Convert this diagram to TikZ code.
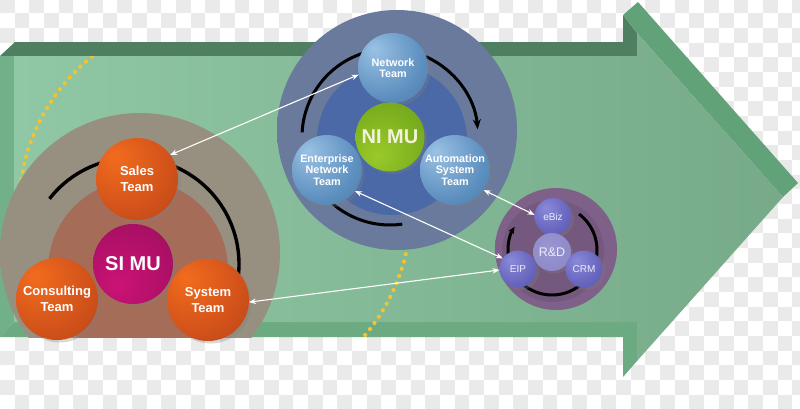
\documentclass[tikz,border=0pt]{standalone}
\usepackage{fontspec}
\setmainfont{Liberation Sans}
\usetikzlibrary{arrows.meta,shadows}
\definecolor{chk}{HTML}{EAEAEA}
\definecolor{topband}{HTML}{4E7F60}
\definecolor{leftstrip}{HTML}{72B08A}
\definecolor{botband}{HTML}{6CAB82}
\definecolor{headside}{HTML}{62A278}
\definecolor{faceA}{HTML}{90C7A4}
\definecolor{faceB}{HTML}{76AA89}
\definecolor{dotyel}{HTML}{F4C42E}
\definecolor{siA}{HTML}{978F7F}
\definecolor{siB}{HTML}{ADA593}
\definecolor{siinA}{HTML}{A56C58}
\definecolor{siinB}{HTML}{AF7A66}
\definecolor{niA}{HTML}{6A7A9C}
\definecolor{niB}{HTML}{7D8DB0}
\definecolor{niin}{HTML}{4A69A6}
\definecolor{rdA}{HTML}{7E6088}
\definecolor{rdB}{HTML}{8E6E92}
\definecolor{or1}{HTML}{F26C1E}
\definecolor{or2}{HTML}{D2521A}
\definecolor{or3}{HTML}{862F11}
\definecolor{bl1}{HTML}{9AC2E4}
\definecolor{bl2}{HTML}{5C8EBE}
\definecolor{bl3}{HTML}{28527E}
\definecolor{gr1}{HTML}{9ACA2A}
\definecolor{gr2}{HTML}{7AAE1E}
\definecolor{gr3}{HTML}{4E7A16}
\definecolor{mg1}{HTML}{CC1276}
\definecolor{mg2}{HTML}{AC1066}
\definecolor{mg3}{HTML}{740F44}
\definecolor{pu1}{HTML}{8A8ADA}
\definecolor{pu2}{HTML}{6664BC}
\definecolor{pu3}{HTML}{403E8A}
\definecolor{rd1}{HTML}{9A96D2}
\definecolor{rd2}{HTML}{7C78BA}
\definecolor{nitext}{HTML}{F2F2DA}
\definecolor{rdtext}{HTML}{ECECFA}
\pgfdeclareradialshading{orball}{\pgfpoint{-14bp}{14bp}}{color(0bp)=(or1); color(28bp)=(or2); color(75bp)=(or3)}
\pgfdeclareradialshading{blball}{\pgfpoint{-14bp}{14bp}}{color(0bp)=(bl1); color(30bp)=(bl2); color(75bp)=(bl3)}
\pgfdeclareradialshading{grball}{\pgfpoint{-10bp}{-14bp}}{color(0bp)=(gr1); color(30bp)=(gr2); color(75bp)=(gr3)}
\pgfdeclareradialshading{mgball}{\pgfpoint{-10bp}{-14bp}}{color(0bp)=(mg1); color(30bp)=(mg2); color(75bp)=(mg3)}
\pgfdeclareradialshading{puball}{\pgfpoint{-10bp}{12bp}}{color(0bp)=(pu1); color(28bp)=(pu2); color(75bp)=(pu3)}
\pgfdeclareradialshading{rdball}{\pgfpoint{-6bp}{8bp}}{color(0bp)=(rd1); color(75bp)=(rd2)}
\pgfdeclareradialshading{sidisc}{\pgfpointorigin}{color(0bp)=(siA); color(40bp)=(siA); color(50bp)=(siB)}
\pgfdeclareradialshading{siin}{\pgfpointorigin}{color(0bp)=(siinA); color(42bp)=(siinA); color(50bp)=(siinB)}
\pgfdeclareradialshading{nidisc}{\pgfpointorigin}{color(0bp)=(niA); color(42bp)=(niA); color(50bp)=(niB)}
\pgfdeclareradialshading{rddisc}{\pgfpointorigin}{color(0bp)=(rdA); color(40bp)=(rdA); color(50bp)=(rdB)}
\tikzset{
  ballnode/.style={circle, inner sep=0pt, outer sep=0pt, align=center, text=white,
    drop shadow={shadow xshift=2.5pt, shadow yshift=-2.5pt, opacity=0.3}},
  oball/.style={ballnode, shading=orball, minimum size=82pt, font=\fontsize{13}{15.5}\selectfont\bfseries},
  bball/.style={ballnode, shading=blball, minimum size=70pt, font=\fontsize{10.8}{11.7}\selectfont\bfseries},
  gball/.style={ballnode, shading=grball, minimum size=69pt, text=nitext, font=\fontsize{20}{22}\selectfont\bfseries},
  mball/.style={ballnode, shading=mgball, minimum size=80pt, font=\fontsize{20}{22}\selectfont\bfseries},
  pball/.style={ballnode, shading=puball, minimum size=37pt, text=rdtext, font=\fontsize{10}{12}\selectfont},
  rball/.style={ballnode, shading=rdball, minimum size=38pt, text=rdtext, font=\fontsize{12.5}{14}\selectfont},
  cyclearc/.style={black, line width=3pt},
  conn/.style={white, line width=1.1pt, {Stealth[length=7pt,width=5.5pt]}-{Stealth[length=7pt,width=5.5pt]}},
}
\begin{document}
\begin{tikzpicture}[x=1pt,y=-1pt]
\useasboundingbox (0,0) rectangle (800,408);
\fill[white] (0,0) rectangle (800,408);
% checkerboard
\foreach \i in {0,...,27} \foreach \j in {0,...,14} {
  \fill[chk] (\i*29.34, \j*29.34-1.4) rectangle ++(14.67,14.67);
  \fill[chk] (\i*29.34+14.67, \j*29.34+13.27) rectangle ++(14.67,14.67);
}
% arrow body
\fill[topband] (0,56) -- (15,42) -- (623,42) -- (623,15) -- (637,33) -- (637,56) -- cycle;
\fill[headside] (623,15) -- (638,2) -- (798,183) -- (783,197) -- (637,33) -- cycle;
\fill[leftstrip] (0,56) -- (14,56) -- (14,322) -- (0,337) -- cycle;
\fill[botband] (0,337) -- (14,322) -- (637,322) -- (637,361) -- (623,377) -- (623,337) -- cycle;
\shade[left color=faceA, right color=faceB] (14,56) -- (637,56) -- (637,33) -- (783,197) -- (637,361) -- (637,322) -- (14,322) -- cycle;
% dotted circle
\begin{scope}
  \clip (0,56) rectangle (640,337);
  \draw[dotyel, line width=4.2pt, line cap=round, dash pattern=on 0pt off 7.6pt] (215,209) circle[radius=196];
\end{scope}
% SI discs
\begin{scope}
  \clip (0,42) rectangle (623,337);
  \shade[shading=sidisc] (140,253) circle[radius=140];
  \shade[shading=siin] (138,270) circle[radius=90];
\end{scope}
% NI discs
\shade[shading=nidisc] (397,130) circle[radius=120];
\fill[niin] (392,140) circle[radius=75];
% R&D discs
\shade[shading=rddisc] (556,249) circle[radius=61];
\fill[rdA!92!black] (553,251) circle[radius=51];
% cycle arcs
\coordinate (sic) at (133,264);
\coordinate (nic) at (390,137);
\coordinate (rdc) at (552,250);
\draw[cyclearc, line width=3.4pt] (sic) ++(218:106) arc[start angle=218, end angle=380, radius=106];
\draw[cyclearc] (nic) ++(183:88) arc[start angle=183, end angle=258, radius=88];
\draw[cyclearc, -{Stealth[length=10pt,width=8pt]}] (nic) ++(-66:88) arc[start angle=-66, end angle=-5, radius=88];
\draw[cyclearc] (nic) ++(82:88) arc[start angle=82, end angle=135, radius=88];
\draw[cyclearc, -{Stealth[length=7pt,width=6pt]}] (rdc) ++(174:44) arc[start angle=174, end angle=212, radius=44];
\draw[cyclearc] (rdc) ++(-53:45) arc[start angle=-53, end angle=14, radius=45];
\draw[cyclearc] (rdc) ++(53:45) arc[start angle=53, end angle=131, radius=45];
% SI balls
\node[oball] (sales) at (137,179) {Sales\\Team};
\node[mball] (simu) at (133,264) {SI MU};
\node[oball] (consulting) at (57,299) {Consulting\\Team};
\node[oball] (system) at (208,300) {System\\Team};
% NI balls
\node[bball] (network) at (393,68) {Network\\Team};
\node[gball] (nimu) at (390,137) {NI MU};
\node[bball] (enterprise) at (327,170) {Enterprise\\Network\\Team};
\node[bball] (automation) at (455,170) {Automation\\System\\Team};
% R&D balls
\node[pball] (ebiz) at (553,216.5) {eBiz};
\node[rball] (rd) at (552,252) {R\&D};
\node[pball] (eip) at (518,269) {EIP};
\node[pball] (crm) at (584,269) {CRM};
% connectors
\draw[conn] (sales.36) -- (network.191);
\draw[conn] (enterprise.-37) -- (eip.145);
\draw[conn] (automation.-35) -- (ebiz.175);
\draw[conn] (system.-3) -- (eip.183);
\end{tikzpicture}
\end{document}
